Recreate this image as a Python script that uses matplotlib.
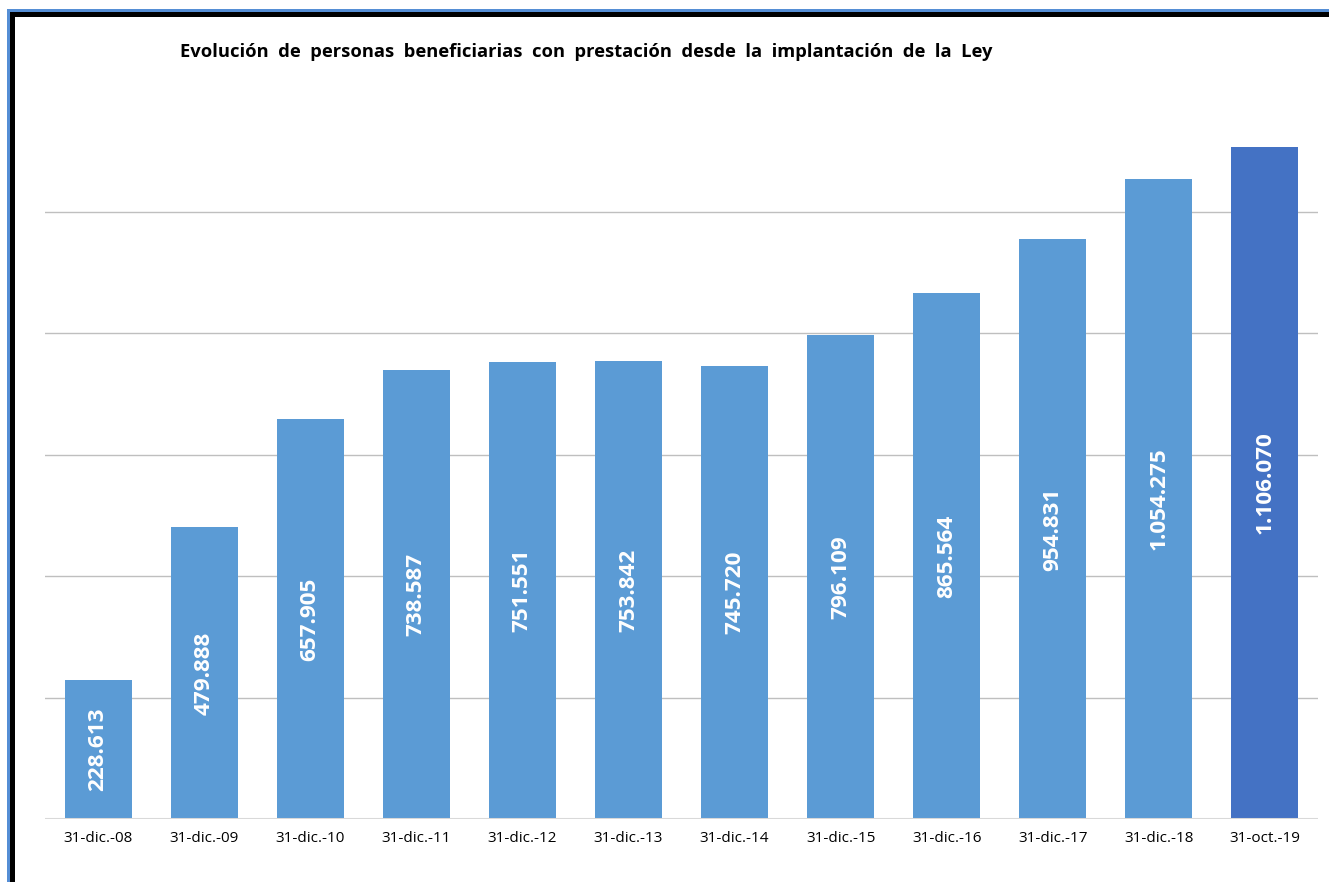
import matplotlib
matplotlib.use("Agg")
import matplotlib.pyplot as plt
from matplotlib.patches import Rectangle

# data
fechas = ["31-dic.-08", "31-dic.-09", "31-dic.-10", "31-dic.-11", "31-dic.-12",
          "31-dic.-13", "31-dic.-14", "31-dic.-15", "31-dic.-16", "31-dic.-17",
          "31-dic.-18", "31-oct.-19"]
beneficiarios = [228613, 479888, 657905, 738587, 751551, 753842, 745720,
                 796109, 865564, 954831, 1054275, 1106070]
titulo = "Evolución  de  personas  beneficiarias  con  prestación  desde  la  implantación  de  la  Ley"

plt.rcParams['font.family'] = ['Open Sans', 'DejaVu Sans']

def miles(v):
    return "{:,}".format(v).replace(",", ".")

fig = plt.figure(figsize=(13.29, 8.82), dpi=100)
ax = fig.add_axes([45 / 1329, 63 / 882, 1273 / 1329, 729 / 882])

colores = ["#5B9BD5"] * (len(beneficiarios) - 1) + ["#4472C4"]
x = range(len(fechas))
bars = ax.bar(x, beneficiarios, width=0.632, color=colores, zorder=2)

for b, v in zip(bars, beneficiarios):
    ax.text(b.get_x() + b.get_width() / 2, v / 2, miles(v), rotation=90,
            ha='center', va='center', color='white', fontsize=16.2,
            fontweight='bold', zorder=3)

ax.set_xlim(-0.5, len(fechas) - 0.5)
ax.set_ylim(0, 1200000)
for g in range(200000, 1000001, 200000):
    ax.axhline(g, color='#BFBFBF', lw=1, zorder=1)
ax.axhline(0, color='#D9D9D9', lw=2.2, zorder=3)

ax.set_xticks(list(x))
ax.set_xticklabels(fechas, fontsize=11, color='#000000')
ax.tick_params(axis='x', length=0, pad=9)
ax.set_yticks([])
for s in ax.spines.values():
    s.set_visible(False)

fig.text(586 / 1329, 1 - 52 / 882, titulo, ha='center', va='center',
         fontsize=13.2, fontweight='bold')

# frame lines at the top and left edges
fig.add_artist(Rectangle((7 / 1329, 0), 3 / 1329, 1 - 9 / 882, transform=fig.transFigure,
                         color='#558ED5', lw=0))
fig.add_artist(Rectangle((7 / 1329, 1 - 12 / 882), 1 - 7 / 1329, 3 / 882, transform=fig.transFigure,
                         color='#558ED5', lw=0))
fig.add_artist(Rectangle((10 / 1329, 0), 5 / 1329, 1 - 12 / 882, transform=fig.transFigure,
                         color='black', lw=0))
fig.add_artist(Rectangle((10 / 1329, 1 - 16.5 / 882), 1 - 10 / 1329, 4.5 / 882, transform=fig.transFigure,
                         color='black', lw=0))

fig.savefig("out.png", dpi=100)
